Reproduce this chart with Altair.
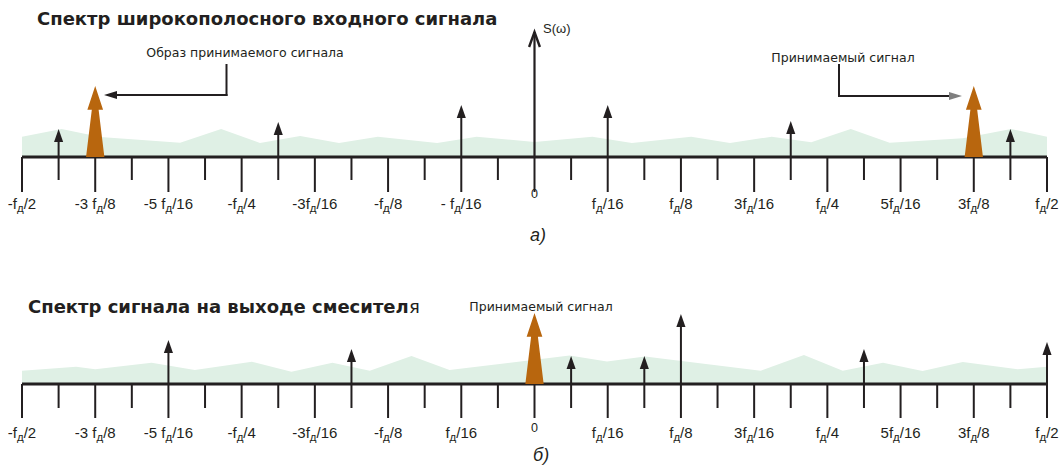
import altair as alt
import pandas as pd

# ---------------- data ----------------
# x positions in "label steps" (one step between neighbouring labels), 0 = centre
tick_pos = [-7, -6.5, -6, -5.5, -5, -4.5, -4, -3.5, -3, -2.5, -2, -1.5, -1, -0.5,
            0, 0.5, 1, 1.5, 2, 2.5, 3, 3.5, 4, 4.5, 5, 5.5, 6, 6.5, 7]
label_pos = [-7, -6, -5, -4, -3, -2, -1, 0, 1, 2, 3, 4, 5, 6, 7]
labels_a = ["-fд/2", "-3 fд/8", "-5 fд/16", "-fд/4", "-3fд/16", "-fд/8", "- fд/16", "0",
            "fд/16", "fд/8", "3fд/16", "fд/4", "5fд/16", "3fд/8", "fд/2"]
labels_b = ["-fд/2", "-3 fд/8", "-5 fд/16", "-fд/4", "-3fд/16", "-fд/8", "fд/16", "0",
            "fд/16", "fд/8", "3fд/16", "fд/4", "5fд/16", "3fд/8", "fд/2"]

# panel a: wideband input spectrum
noise_a_pos = [-7.0, -6.46, -5.93, -4.84, -4.28, -3.75, -3.2, -2.67, -2.14, -1.33, -0.79, 0.0,
               0.79, 1.33, 2.14, 2.67, 3.24, 3.78, 4.32, 4.85, 5.85, 6.51, 7.0]
noise_a_amp = [20.3, 28, 20, 14.3, 28, 14, 21, 14, 20.3, 14, 20.3, 15,
               20.3, 14, 20.3, 14, 20.3, 14.7, 28, 14.3, 18.7, 28, 20.3]
lines_a_pos = [-6.5, -3.5, -1, 1, 3.5, 6.5]
lines_a_amp = [28, 35, 52, 52, 36, 28]
signal_a_pos = [-6, 6]
signal_a_amp = [71, 71]
dc_pos = [0]
dc_amp = [125]

# panel b: mixer output spectrum
noise_b_pos = [-7.0, -6.26, -6.0, -5.23, -4.64, -3.86, -3.32, -2.76, -2.25, -1.68, -1.16,
               0.48, 0.99, 1.51, 3.09, 3.68, 4.21, 4.76, 5.30, 5.85, 6.6, 7.0]
noise_b_amp = [13.3, 17.3, 14.7, 21.3, 14, 22.3, 12.3, 21.3, 13.3, 28, 14,
               28.6, 22.6, 27.6, 13.3, 29, 13.3, 21.3, 13, 22, 14.7, 17.3]
lines_b_pos = [-5, -2.5, 0.5, 1.5, 2, 4.5, 7]
lines_b_amp = [44, 35, 28, 28, 70, 35, 42]
signal_b_pos = [0]
signal_b_amp = [71]

# ---------------- styles ----------------
INK = "#231f20"
GREEN = "#dff0e5"
ORANGE = "#b8660e"
GREY = "#7f7f7f"
W = 1062
X0, X1 = 22, 1047
PX = (X1 - X0) / 14.0
LABEL_FONT = "Liberation Sans"
NOTE_FONT = "DejaVu Sans"
FS, FSUB = 15, 11.5
HEAD = "M-0.7,1L0,-1L0.7,1Z"
CHEVRON = "M-0.72,1L0,-1L0.72,1"
BIG_ARROW = "M0,-1L0.221,-0.33L0.096,-0.33L0.258,1L-0.258,1L-0.096,-0.33L-0.221,-0.33Z"
LEFT_HEAD = "M1,-0.6L-1,0L1,0.6Z"
RIGHT_HEAD = "M-1,-0.6L1,0L-1,0.6Z"

ONE = pd.DataFrame({"k": [0]})
xs = alt.Scale(domain=[-7, 7], range=[X0, X1])

CW = {"-": 0.333, " ": 0.278, "f": 0.278, "/": 0.278}


def tw(s, fs):
    return sum(CW.get(c, 0.556) for c in s) * fs


def label_layers(labels, base_y, zero_y):
    wd = 0.58 * FSUB
    rows = []
    for u, lab in zip(label_pos, labels):
        if "д" not in lab:
            continue
        pre, suf = lab.split("д")
        wp, wsf = tw(pre, FS), tw(suf, FS)
        a = (wp - wd - wsf) / 2
        rows.append(dict(pre=pre, suf=suf, sub="д", xp=u + a / PX, xq=u + (a + wd) / PX))
    d = pd.DataFrame(rows)
    base = alt.Chart(d)
    pre = base.mark_text(align="right", baseline="alphabetic", font=LABEL_FONT,
                         fontSize=FS, color=INK).encode(
        x=alt.X("xp:Q", scale=xs, axis=None), y=alt.value(base_y), text="pre:N")
    sub = base.mark_text(align="left", baseline="alphabetic", font=LABEL_FONT,
                         fontSize=FSUB, color=INK).encode(
        x=alt.X("xp:Q", scale=xs, axis=None), y=alt.value(base_y + 3), text="sub:N")
    suf = base.mark_text(align="left", baseline="alphabetic", font=LABEL_FONT,
                         fontSize=FS, color=INK).encode(
        x=alt.X("xq:Q", scale=xs, axis=None), y=alt.value(base_y), text="suf:N")
    zero = alt.Chart(pd.DataFrame({"u": [0], "t": ["0"]})).mark_text(
        align="center", baseline="middle", font=LABEL_FONT, fontSize=12.5, color=INK).encode(
        x=alt.X("u:Q", scale=xs, axis=None), y=alt.value(zero_y), text="t:N")
    return [pre, sub, suf, zero]


def panel(base_px, height, noise_pos, noise_amp, lines_pos, lines_amp, sig_pos, sig_amp,
          labels, label_y, zero_y, long_len, short_len, extra):
    ys = alt.Scale(domain=[0, base_px], range=[base_px, 0])
    X = lambda f: alt.X(f, scale=xs, axis=None)
    Y = lambda f: alt.Y(f, scale=ys, axis=None)

    noise = alt.Chart(pd.DataFrame({"u": noise_pos, "h": noise_amp})).mark_area(
        color=GREEN, opacity=1).encode(x=X("u:Q"), y=Y("h:Q"))

    axis_line = alt.Chart(pd.DataFrame({"u": [tick_pos[0]], "u2": [tick_pos[-1]], "h": [0]})).mark_rule(
        color=INK, strokeWidth=3.2).encode(x=X("u:Q"), x2="u2:Q", y=Y("h:Q"))

    tdf = pd.DataFrame({"u": tick_pos})
    tdf["top"] = 0
    tdf["bot"] = [-(long_len if float(p).is_integer() else short_len) for p in tick_pos]
    ticks = alt.Chart(tdf).mark_rule(color=INK, strokeWidth=2).encode(
        x=X("u:Q"), y=Y("top:Q"), y2="bot:Q")

    ldf = pd.DataFrame({"u": lines_pos, "h": lines_amp})
    ldf["zero"] = 0
    ldf["stem"] = ldf["h"] - 12
    ldf["head"] = ldf["h"] - 6.5
    stems = alt.Chart(ldf).mark_rule(color=INK, strokeWidth=2).encode(
        x=X("u:Q"), y=Y("zero:Q"), y2="stem:Q")
    heads = alt.Chart(ldf).mark_point(shape=HEAD, filled=True, size=169, color=INK,
                                      opacity=1, strokeWidth=0).encode(
        x=X("u:Q"), y=Y("head:Q"))

    sdf = pd.DataFrame({"u": sig_pos, "h": sig_amp})
    sdf["mid"] = sdf["h"] / 2
    sdf["sz"] = sdf["h"] ** 2
    sig = alt.Chart(sdf).mark_point(shape=BIG_ARROW, filled=True, color=ORANGE,
                                    opacity=1, strokeWidth=0).encode(
        x=X("u:Q"), y=Y("mid:Q"), size=alt.Size("sz:Q", scale=None, legend=None))

    layers = [noise, axis_line, ticks, stems, heads, sig]
    layers += label_layers(labels, label_y, zero_y)
    layers += extra(X, Y)
    return alt.layer(*layers).properties(width=W, height=height)


def rule(x, x2, y, y2, color=INK, w=2):
    return alt.Chart(ONE).mark_rule(color=color, strokeWidth=w, strokeCap="square").encode(
        x=alt.value(x), x2=alt.value(x2), y=alt.value(y), y2=alt.value(y2))


def text(t, x, y, size, align="left", weight="normal", font=NOTE_FONT, style="normal",
         baseline="middle"):
    return alt.Chart(ONE).mark_text(text=t, align=align, baseline=baseline, font=font,
                                    fontSize=size, fontWeight=weight, fontStyle=style,
                                    color=INK).encode(x=alt.value(x), y=alt.value(y))


def head(path, x, y, color):
    return alt.Chart(ONE).mark_point(shape=path, filled=True, size=169, color=color,
                                     opacity=1, strokeWidth=0).encode(
        x=alt.value(x), y=alt.value(y))


def extra_a(X, Y):
    ddf = pd.DataFrame({"u": dc_pos, "h": dc_amp})
    ddf["zero"] = 0
    ddf["head"] = ddf["h"] - 7.5
    dc_stem = alt.Chart(ddf).mark_rule(color=INK, strokeWidth=2.2).encode(
        x=X("u:Q"), y=Y("zero:Q"), y2="h:Q")
    dc_head = alt.Chart(ddf).mark_point(shape=CHEVRON, filled=False, size=225, color=INK,
                                        opacity=1, strokeWidth=2.4).encode(
        x=X("u:Q"), y=Y("head:Q"))
    return [
        dc_stem, dc_head,
        text("Спектр широкополосного входного сигнала", 37, 20, 18, weight="bold"),
        text("S(ω)", 543, 29, 13, font=LABEL_FONT),
        text("Образ принимаемого сигнала", 245, 53, 12.5, align="center"),
        rule(226.5, 226.5, 65, 95),
        rule(226.5, 116, 95, 95),
        head(LEFT_HEAD, 110.5, 95, INK),
        text("Принимаемый сигнал", 843, 58, 12.5, align="center"),
        rule(839, 839, 65, 96),
        rule(839, 949, 96, 96),
        head(RIGHT_HEAD, 955.5, 96, GREY),
        text("а)", 530, 241, 18, font=LABEL_FONT, style="italic", baseline="alphabetic"),
    ]


def extra_b(X, Y):
    return [
        text("Спектр сигнала на выходе смесител", 28, 58, 18, weight="bold"),
        text("я", 409, 58, 18),
        text("Принимаемый сигнал", 541, 57, 12.5, align="center"),
        text("б)", 533, 211, 18, font=LABEL_FONT, style="italic", baseline="alphabetic"),
    ]


panel_a = panel(157, 250, noise_a_pos, noise_a_amp, lines_a_pos, lines_a_amp,
                signal_a_pos, signal_a_amp, labels_a, 209, 194, 35, 23, extra_a)
panel_b = panel(134, 217, noise_b_pos, noise_b_amp, lines_b_pos, lines_b_amp,
                signal_b_pos, signal_b_amp, labels_b, 188, 178, 34, 24, extra_b)

chart = alt.vconcat(panel_a, panel_b, spacing=0).properties(
    padding=0, background="white").configure_view(stroke=None)

chart.save("out.html", embed_options={"renderer": "svg", "actions": False})
